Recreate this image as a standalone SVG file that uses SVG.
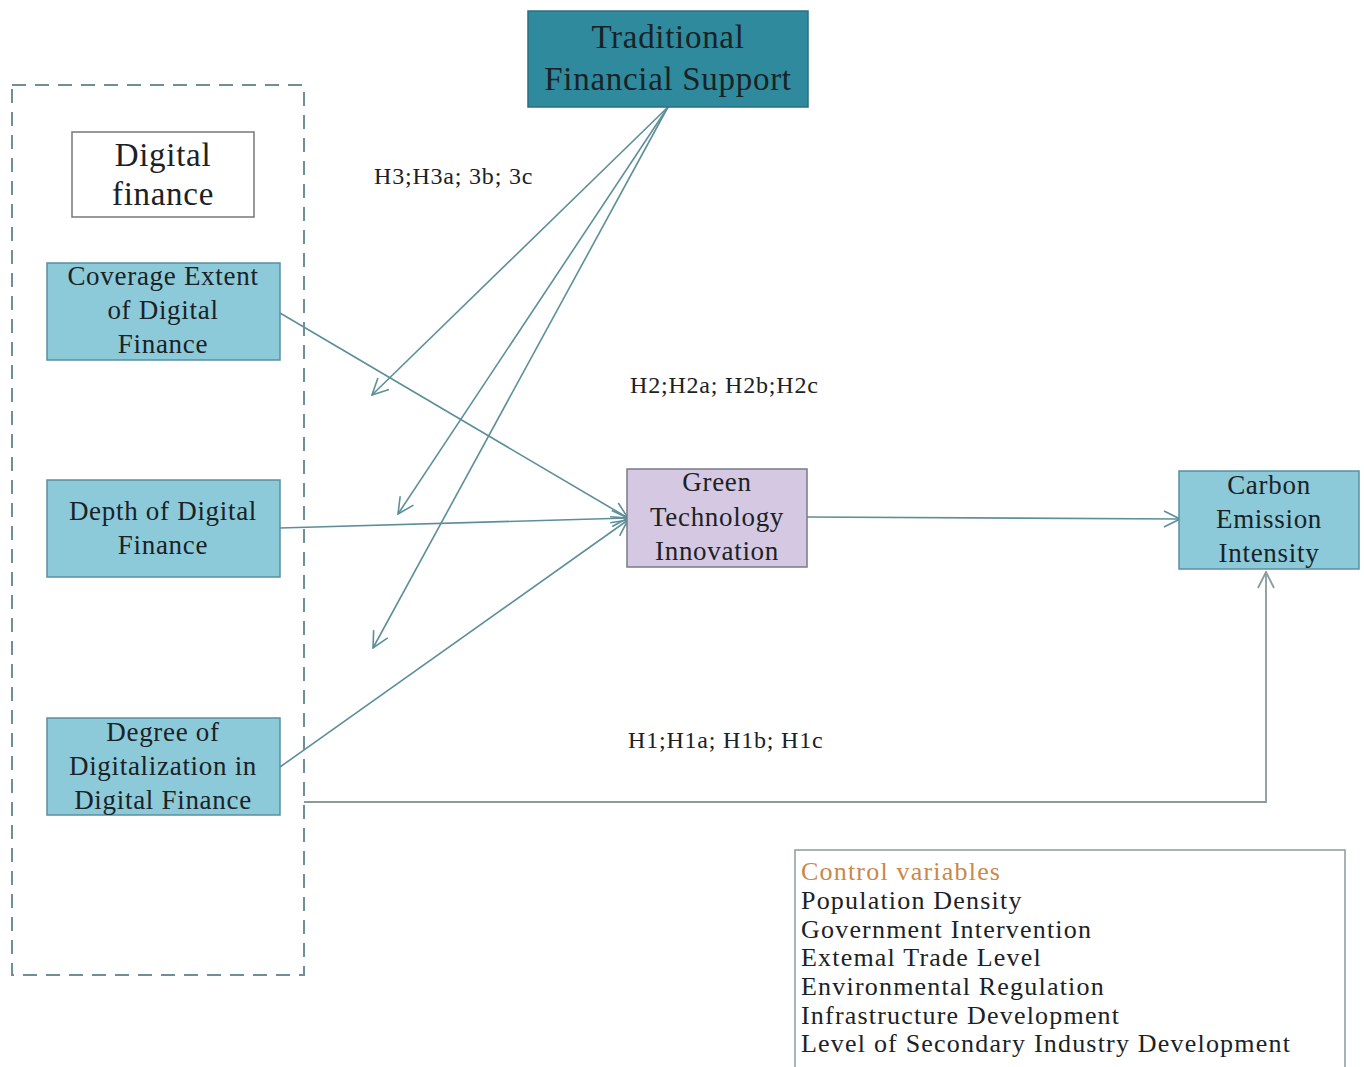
<svg xmlns="http://www.w3.org/2000/svg" width="1364" height="1067" viewBox="0 0 1364 1067">
<style>
text{font-family:"Liberation Serif","Times New Roman",serif;fill:#1a2226;}
.node{font-size:27px;text-anchor:middle;letter-spacing:0.7px;}
.big{font-size:33px;letter-spacing:0.7px;}
.lbl{font-size:24px;letter-spacing:0.8px;}
.ctl{font-size:26px;letter-spacing:1.2px;}
.blue{fill:#8ccad9;stroke:#5a8ea0;stroke-width:1.5;}
.conn{fill:none;stroke:#5d8f98;stroke-width:1.6;}
.gray{fill:none;stroke:#8a9a9e;stroke-width:1.8;}
</style>
<defs>
<marker id="arr" viewBox="0 0 20 20" refX="19" refY="10" markerWidth="20" markerHeight="20" markerUnits="userSpaceOnUse" orient="auto">
<path d="M3,2 L19,10 L3,18" fill="none" stroke="#5d8f98" stroke-width="1.6"/>
</marker>
<marker id="arrg" viewBox="0 0 20 20" refX="19" refY="10" markerWidth="20" markerHeight="20" markerUnits="userSpaceOnUse" orient="auto">
<path d="M3,2 L19,10 L3,18" fill="none" stroke="#8a9a9e" stroke-width="1.8"/>
</marker>
</defs>
<rect width="1364" height="1067" fill="#ffffff"/>
<g id="connectors">
<line class="conn" x1="668" y1="107" x2="372" y2="395" marker-end="url(#arr)"/>
<line class="conn" x1="668" y1="107" x2="398" y2="514" marker-end="url(#arr)"/>
<line class="conn" x1="668" y1="107" x2="373" y2="648" marker-end="url(#arr)"/>
<line class="conn" x1="280" y1="313" x2="628" y2="518" marker-end="url(#arr)"/>
<line class="conn" x1="280" y1="528" x2="628" y2="518" marker-end="url(#arr)"/>
<line class="conn" x1="280" y1="767" x2="628" y2="520" marker-end="url(#arr)"/>
<line class="conn" x1="807" y1="517" x2="1180" y2="519" marker-end="url(#arr)"/>
<polyline class="gray" points="304,802 1266,802 1266,572" marker-end="url(#arrg)"/>
</g>
<g id="digital-finance-group">
<rect x="12" y="85" width="292" height="890" fill="none" stroke="#6e8e98" stroke-width="2" stroke-dasharray="14,9"/>
</g>
<g id="digital-finance">
<rect x="72" y="132" width="182" height="85" fill="#ffffff" stroke="#777777" stroke-width="1.5"/>
<text class="node big" x="163" y="166">Digital</text>
<text class="node big" x="163" y="205">finance</text>
</g>
<g id="coverage">
<rect class="blue" x="47" y="263" width="233" height="97"/>
<text class="node" x="163" y="285">Coverage Extent</text>
<text class="node" x="163" y="319">of Digital</text>
<text class="node" x="163" y="353">Finance</text>
</g>
<g id="depth">
<rect class="blue" x="47" y="480" width="233" height="97"/>
<text class="node" x="163" y="520">Depth of Digital</text>
<text class="node" x="163" y="554">Finance</text>
</g>
<g id="degree">
<rect class="blue" x="47" y="718" width="233" height="97"/>
<text class="node" x="163" y="741">Degree of</text>
<text class="node" x="163" y="775">Digitalization in</text>
<text class="node" x="163" y="809">Digital Finance</text>
</g>
<g id="traditional">
<rect x="528" y="11" width="280" height="96" fill="#2e8a9c" stroke="#2a6f80" stroke-width="1.5"/>
<text class="node big" x="668" y="48">Traditional</text>
<text class="node big" x="668" y="90">Financial Support</text>
</g>
<g id="green">
<rect x="627" y="469" width="180" height="98" fill="#d5c8e2" stroke="#7a7a8a" stroke-width="1.5"/>
<text class="node" x="717" y="491">Green</text>
<text class="node" x="717" y="526">Technology</text>
<text class="node" x="717" y="560">Innovation</text>
</g>
<g id="carbon">
<rect class="blue" x="1179" y="471" width="180" height="98"/>
<text class="node" x="1269" y="494">Carbon</text>
<text class="node" x="1269" y="528">Emission</text>
<text class="node" x="1269" y="562">Intensity</text>
</g>
<g id="labels">
<text class="lbl" x="374" y="184">H3;H3a; 3b; 3c</text>
<text class="lbl" x="630" y="393">H2;H2a; H2b;H2c</text>
<text class="lbl" x="628" y="748">H1;H1a; H1b; H1c</text>
</g>
<g id="controls">
<rect x="795" y="850" width="550" height="230" fill="#ffffff" stroke="#8a9a9e" stroke-width="1.5"/>
<text class="ctl" x="801" y="880" style="fill:#c8894a">Control variables</text>
<text class="ctl" x="801" y="909">Population Density</text>
<text class="ctl" x="801" y="938">Government Intervention</text>
<text class="ctl" x="801" y="966">Extemal Trade Level</text>
<text class="ctl" x="801" y="995">Environmental Regulation</text>
<text class="ctl" x="801" y="1024">Infrastructure Development</text>
<text class="ctl" x="801" y="1052">Level of Secondary Industry Development</text>
</g>
</svg>
